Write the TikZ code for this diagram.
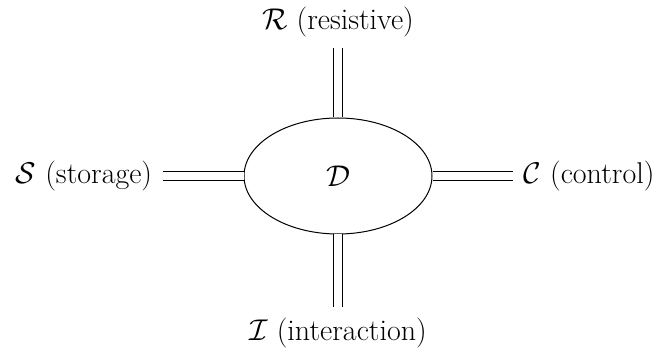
\documentclass[tikz,border=0pt]{standalone}
\usepackage{fix-cm}
\usetikzlibrary{shapes.geometric}
\tikzset{
  core/.style={ellipse,draw,line width=.75pt,inner sep=0pt,minimum width=141pt,minimum height=87pt},
  port/.style={inner sep=0pt,outer sep=8pt},
  bond/.style={line width=.75pt,double,double distance=6pt},
}
\begin{document}
\begin{tikzpicture}[x=0.75pt,y=-0.75pt,font=\fontsize{22.5}{27}\selectfont]
  \useasboundingbox (0,0) rectangle (662,353);
  % ---------------- the central object
  \node[core] (D) at (338,176) {$\mathcal{D}$};
  % ---------------- the four ports
  \node[port] (R) at (338,22) {$\mathcal{R}$ (resistive)};
  \node[port] (S) at (84,176) {$\mathcal{S}$ (storage)};
  \node[port] (C) at (589,176) {$\mathcal{C}$ (control)};
  \node[port] (I) at (338,333) {$\mathcal{I}$ (interaction)};
  \draw[bond] (D.north) -- (R.south);
  \draw[bond] (D.west) -- (S.east);
  \draw[bond] (D.east) -- (C.west);
  \draw[bond] (D.south) -- (I.north);
\end{tikzpicture}
\end{document}
